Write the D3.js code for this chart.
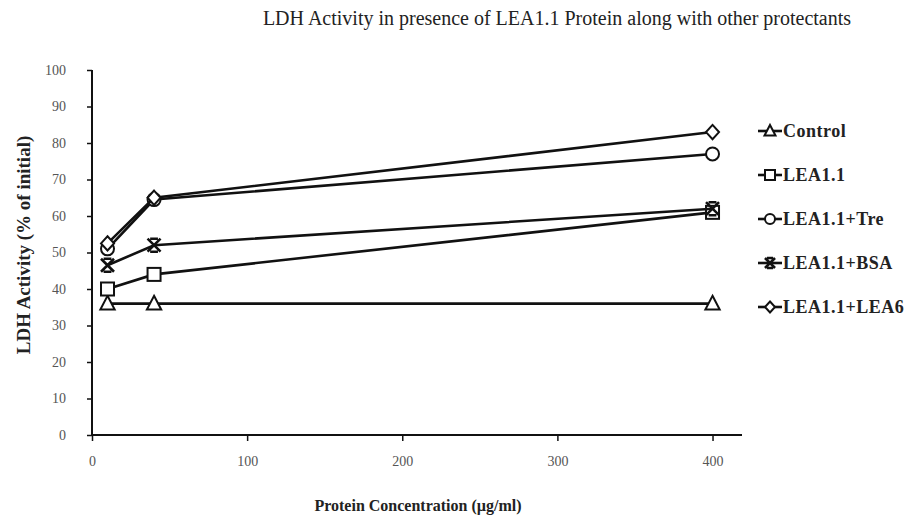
<!DOCTYPE html>
<html>
<head>
<meta charset="utf-8">
<title>LDH Activity</title>
<script src="https://cdn.jsdelivr.net/npm/d3@7"></script>
<style>
  body { margin: 0; background: #fff; }
  svg text { font-family: "Liberation Serif", "DejaVu Serif", serif; }
</style>
</head>
<body>
<svg id="svg"></svg>
<script>
// data
var concentrations = [10, 40, 400];
var seriesNames = ["Control", "LEA1.1", "LEA1.1+Tre", "LEA1.1+BSA", "LEA1.1+LEA6"];
var control = [36, 36, 36];
var lea11 = [40, 44, 61];
var lea11Tre = [51, 64.5, 77];
var lea11Bsa = [46.5, 52, 62];
var lea11Lea6 = [52.5, 65, 83];
var xTicks = [0, 100, 200, 300, 400];
var yTicks = [0, 10, 20, 30, 40, 50, 60, 70, 80, 90, 100];

var width = 919, height = 520;
var margins = {top: 70, left: 92, right: 177, bottom: 85};

var series = [
  {name: seriesNames[0], values: control, shape: "triangle"},
  {name: seriesNames[1], values: lea11, shape: "square"},
  {name: seriesNames[2], values: lea11Tre, shape: "circle"},
  {name: seriesNames[3], values: lea11Bsa, shape: "star"},
  {name: seriesNames[4], values: lea11Lea6, shape: "diamond"}
];

var svg = d3.select("#svg")
    .attr("width", width)
    .attr("height", height);

var x = d3.scaleLinear().domain([0, 419]).range([margins.left, width - margins.right]);
var y = d3.scaleLinear().domain([0, 100]).range([height - margins.bottom, margins.top]);

// title
svg.append("text")
    .attr("x", 557)
    .attr("y", 25)
    .attr("text-anchor", "middle")
    .style("font-size", "20px")
    .style("fill", "#222")
    .text("LDH Activity in presence of LEA1.1 Protein along with other protectants");

// axes
var axisX = d3.axisBottom(x).tickValues(xTicks).tickSize(6).tickPadding(15)
    .tickFormat(d3.format("d"));
var gx = svg.append("g")
    .attr("transform", "translate(0," + y(0) + ")")
    .call(axisX);

var axisY = d3.axisLeft(y).tickValues(yTicks).tickSize(5).tickPadding(21);
var gy = svg.append("g")
    .attr("transform", "translate(" + x(0) + ",0)")
    .call(axisY);

[gx, gy].forEach(function(g) {
  g.select(".domain").attr("stroke", "#111").attr("stroke-width", 2);
  g.selectAll(".tick line").attr("stroke", "#111").attr("stroke-width", 1.5);
  g.selectAll(".tick text")
      .style("font-family", "Liberation Serif, serif")
      .style("font-size", "14px")
      .style("fill", "#555");
});
gx.select(".domain").attr("d", "M" + x(0) + ",0H" + x(419));
gy.select(".domain").attr("d", "M0," + y(0) + "V" + y(100));

// axis labels
svg.append("text")
    .attr("x", 418)
    .attr("y", 511)
    .attr("text-anchor", "middle")
    .style("font-size", "16px")
    .style("font-weight", "bold")
    .style("fill", "#222")
    .text("Protein Concentration (\u00b5g/ml)");

svg.append("text")
    .attr("transform", "translate(30," + 245 + ")rotate(-90)")
    .attr("text-anchor", "middle")
    .style("font-size", "19px")
    .style("font-weight", "bold")
    .style("fill", "#222")
    .text("LDH Activity (% of initial)");

// marker shapes
function marker(g, shape, s) {
  if (shape === "triangle") {
    g.append("path").attr("d", "M0," + (-s * 0.6) + "L" + (s * 0.55) + "," + (s * 0.45) + "L" + (-s * 0.55) + "," + (s * 0.45) + "Z");
  } else if (shape === "square") {
    g.append("rect").attr("x", -s / 2).attr("y", -s / 2).attr("width", s).attr("height", s);
  } else if (shape === "circle") {
    g.append("circle").attr("r", s / 2);
  } else if (shape === "diamond") {
    g.append("path").attr("d", "M0," + (-s * 0.55) + "L" + (s * 0.5) + ",0L0," + (s * 0.55) + "L" + (-s * 0.5) + ",0Z");
  } else {
    var h = s / 2;
    g.append("path").attr("d", "M" + (-h) + "," + (-h) + "L" + h + "," + h + "M" + h + "," + (-h) + "L" + (-h) + "," + h + "M" + (-h * 0.6) + "," + (-h) + "H" + (h * 0.6) + "M" + (-h * 0.6) + "," + h + "H" + (h * 0.6))
        .attr("stroke-width", 2.6);
  }
  g.selectAll("*").attr("fill", "#fff").attr("stroke", "#111")
      .filter(function() { return !d3.select(this).attr("stroke-width"); })
      .attr("stroke-width", 2);
}

// lines and points
var line = d3.line()
    .x(function(d, i) { return x(concentrations[i]); })
    .y(function(d) { return y(d); });

var sg = svg.selectAll(".series")
    .data(series)
    .enter().append("g")
    .attr("class", "series");

sg.append("path")
    .attr("d", function(d) { return line(d.values); })
    .attr("fill", "none")
    .attr("stroke", "#111")
    .attr("stroke-width", 2.6);

sg.each(function(s) {
  var g = d3.select(this);
  s.values.forEach(function(v, i) {
    var m = g.append("g").attr("transform", "translate(" + x(concentrations[i]) + "," + y(v) + ")");
    marker(m, s.shape, 13);
  });
});

// legend
var legend = svg.append("g").attr("transform", "translate(770,131)");
series.forEach(function(s, i) {
  var row = legend.append("g").attr("transform", "translate(0," + (i * 44) + ")");
  row.append("line")
      .attr("x1", -12).attr("x2", 12)
      .attr("stroke", "#111").attr("stroke-width", 2.6);
  marker(row.append("g"), s.shape, 10);
  row.append("text")
      .attr("x", 13)
      .attr("y", 6)
      .style("font-size", "18px")
      .style("font-weight", "bold")
      .style("letter-spacing", "0.5px")
      .style("fill", "#222")
      .text(s.name);
});
</script>
</body>
</html>
